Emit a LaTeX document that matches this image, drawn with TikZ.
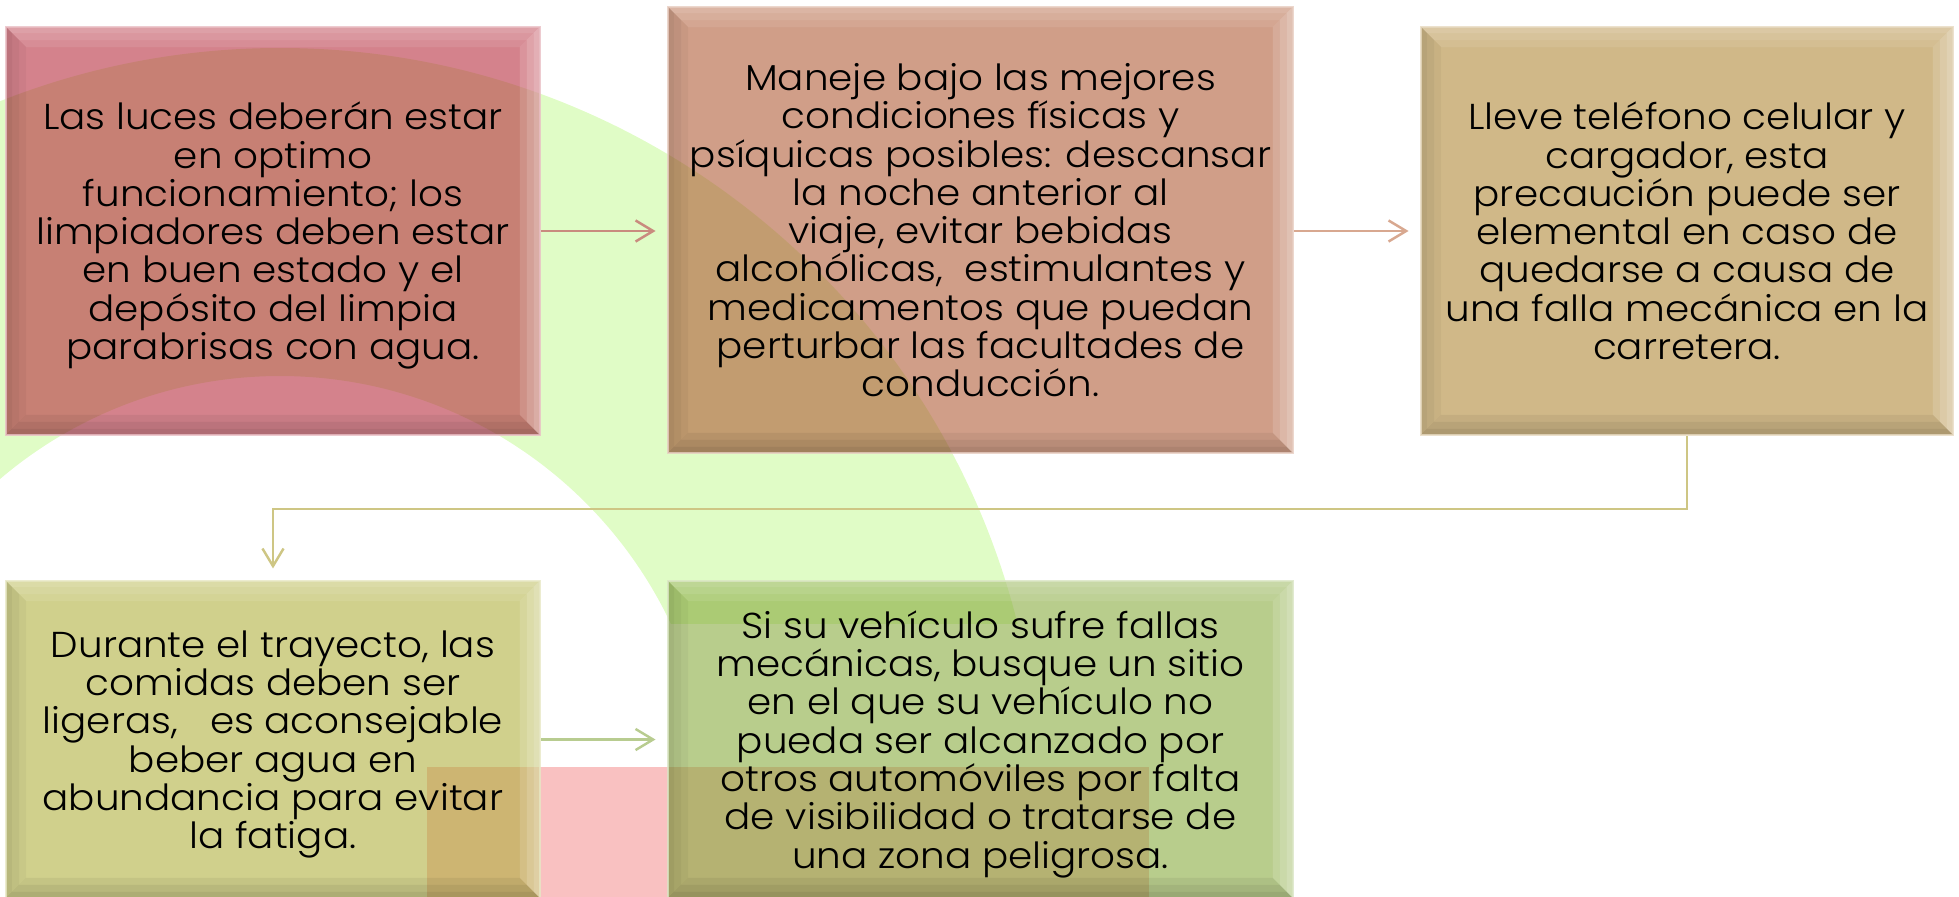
\documentclass[tikz,border=0pt]{standalone}
\usepackage{fontspec}
\IfFontExistsTF{Poppins Light}
  {\setmainfont{Poppins Light}[FakeStretch=1.08]}
  {\setmainfont{Poppins}[FakeStretch=1.08]}
\usetikzlibrary{arrows.meta,calc}
\definecolor{gbg}{RGB}{224,252,198}
\definecolor{pbg}{RGB}{249,193,193}
\definecolor{cA}{RGB}{181,40,57}
\definecolor{cB}{RGB}{174,88,50}
\definecolor{cC}{RGB}{174,133,50}
\definecolor{cD}{RGB}{174,174,57}
\definecolor{cE}{RGB}{133,168,57}
\definecolor{lA}{RGB}{201,139,126}
\definecolor{lB}{RGB}{216,168,144}
\definecolor{lC}{RGB}{206,198,132}
\definecolor{lD}{RGB}{184,204,144}
\newcommand\stT{\rule{0pt}{22pt}}
\newcommand\stB{\rule[-6.5pt]{0pt}{6.5pt}}
\newcommand\bevelband[1]{%
  \fill[white, fill opacity=0.09] (path picture bounding box.north west) -- (path picture bounding box.north east)
    -- ([shift={(-#1,#1)}]path picture bounding box.north east) -- ([shift={(#1,#1)}]path picture bounding box.north west) -- cycle;
  \fill[white, fill opacity=0.14] (path picture bounding box.north east) -- (path picture bounding box.south east)
    -- ([shift={(-#1,-#1)}]path picture bounding box.south east) -- ([shift={(-#1,#1)}]path picture bounding box.north east) -- cycle;
  \fill[black, fill opacity=0.06] (path picture bounding box.south west) -- (path picture bounding box.south east)
    -- ([shift={(-#1,-#1)}]path picture bounding box.south east) -- ([shift={(#1,-#1)}]path picture bounding box.south west) -- cycle;
  \fill[black, fill opacity=0.04] (path picture bounding box.north west) -- (path picture bounding box.south west)
    -- ([shift={(#1,-#1)}]path picture bounding box.south west) -- ([shift={(#1,#1)}]path picture bounding box.north west) -- cycle;
}
\begin{document}
\begin{tikzpicture}[x=0.02cm,y=-0.02cm,
  box/.style={draw=#1!30, line width=1.3pt, draw opacity=0.8, fill=#1, fill opacity=0.58,
    text opacity=1, text=black, inner sep=0pt, align=center,
    font=\fontsize{20.5}{21.8}\selectfont,
    path picture={\bevelband{20}\bevelband{13}\bevelband{6}}},
  conn/.style={draw=#1, line width=1.4pt, -{Straight Barb[length=10pt,width=12pt]}, shorten >=6.5pt}
]
\useasboundingbox (0,0) rectangle (1959,896);
% background shapes
\begin{scope}
  \clip (0,0) rectangle (1959,623);
  \fill[gbg, even odd rule] (280,808) circle[radius=760] (280,808) circle[radius=432];
\end{scope}
\fill[pbg] (427,767) rectangle (1149,900);
% boxes
\node[box=cA, minimum width=10.68cm, minimum height=8.16cm] (b1) at (273,231)
  {\stT Las luces deberán estar\\en optimo\\funcionamiento; los\\limpiadores deben estar\\en buen estado y el\\depósito del limpia\\parabrisas con agua.\stB};
\node[box=cB, minimum width=12.5cm, minimum height=8.92cm] (b2) at (980.5,230)
  {\stT Maneje bajo las mejores\\condiciones físicas y\\psíquicas posibles: descansar\\la noche anterior al\\viaje, evitar bebidas\\alcohólicas,\ \ estimulantes y\\medicamentos que puedan\\perturbar las facultades de\\conducción.\stB};
\node[box=cC, minimum width=10.64cm, minimum height=8.16cm] (b3) at (1687,231)
  {\stT Lleve teléfono celular y\\cargador, esta\\precaución puede ser\\elemental en caso de\\quedarse a causa de\\una falla mecánica en la\\carretera.\stB};
\node[box=cD, minimum width=10.68cm, minimum height=6.34cm] (b4) at (273,739.5)
  {\stT Durante el trayecto, las\\comidas deben ser\\ligeras,\ \ \ es aconsejable\\beber agua en\\abundancia para evitar\\la fatiga.\stB};
\node[box=cE, minimum width=12.5cm, minimum height=6.34cm] (b5) at (980.5,739.5)
  {\stT Si su vehículo sufre fallas\\mecánicas, busque un sitio\\en el que su vehículo no\\pueda ser alcanzado por\\otros automóviles por falta\\de visibilidad o tratarse de\\una zona peligrosa.\stB};
% connectors
\draw[conn=lA] (b1.east) -- (b1.east -| b2.west);
\draw[conn=lB] (b2.east |- b3.west) -- (b3.west);
\draw[conn=lC] (b3.south) -- ++(0,73) -| (b4.north);
\draw[conn=lD] (b4.east) -- (b4.east -| b5.west);
\end{tikzpicture}
\end{document}
